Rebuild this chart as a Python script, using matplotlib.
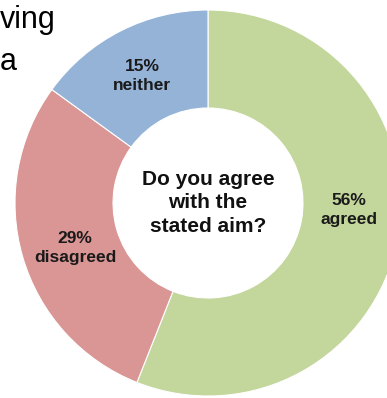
import matplotlib
matplotlib.use('Agg')
import matplotlib.pyplot as plt

# data
answers = ['agreed', 'disagreed', 'neither']
shares = [56, 29, 15]
colors = ['#c3d69b', '#d99694', '#95b3d7']
# label anchor points (pixels, image coords)
label_pos = [(349, 210), (75, 248), (142, 76)]

W, H = 387, 398
plt.rcParams['font.family'] = ['Liberation Sans', 'DejaVu Sans']

fig = plt.figure(figsize=(W / 100, H / 100), dpi=100)
ax = fig.add_axes([0, 0, 1, 1])

cx, cy = 208, H - 203
r_out = 193
ax.pie(shares, colors=colors, startangle=90, counterclock=False,
       radius=r_out, center=(cx, cy),
       wedgeprops=dict(width=r_out - 95, edgecolor='white', linewidth=0.8))

for name, val, (px, py) in zip(answers, shares, label_pos):
    ax.text(px, H - py, f'{val}%\n{name}', ha='center', va='center',
            fontsize=12.5, fontweight='bold', color='#1a1a1a', linespacing=1.3)

ax.text(cx, cy, 'Do you agree\nwith the\nstated aim?', ha='center', va='center',
        fontsize=15, fontweight='bold', color='#111111', linespacing=1.3)

# leftover slide text at the top-left
ax.text(56, H - 28, 'ving', ha='right', va='baseline', fontsize=22, color='black')
ax.text(17, H - 70, 'a', ha='right', va='baseline', fontsize=22, color='black')

ax.set_xlim(0, W)
ax.set_ylim(0, H)
ax.set_aspect('auto')
ax.axis('off')

fig.savefig('out.png', dpi=100)
